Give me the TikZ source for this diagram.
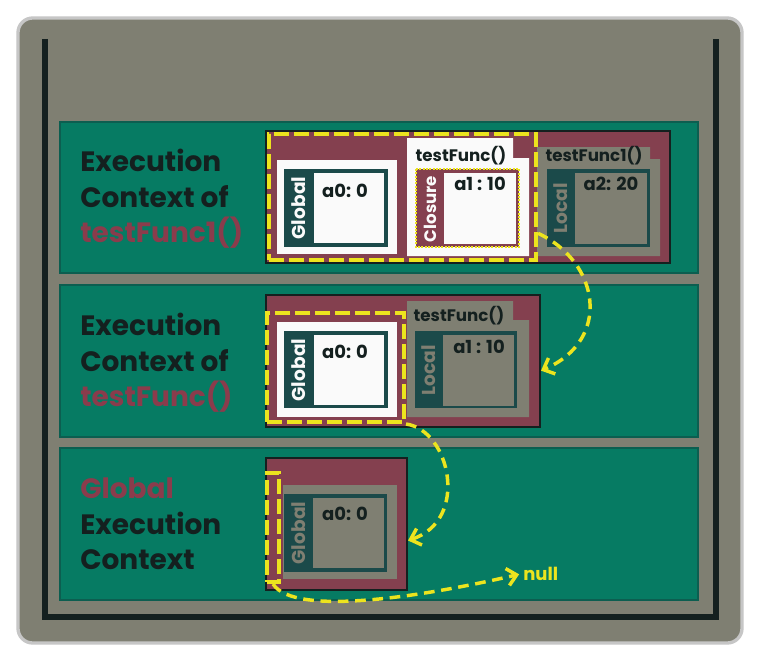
\documentclass[tikz,border=0pt]{standalone}
\usepackage{fontspec}
\setmainfont{Poppins}
\usetikzlibrary{arrows.meta}

\definecolor{frame}{HTML}{7F7F72}
\definecolor{panel}{HTML}{067B63}
\definecolor{panelline}{HTML}{0C5E50}
\definecolor{wine}{HTML}{84404F}
\definecolor{slate}{HTML}{1B4A4A}
\definecolor{chalk}{HTML}{FAFAFA}
\definecolor{lemon}{HTML}{ECE41E}
\definecolor{ink}{HTML}{14201F}
\definecolor{winetext}{HTML}{8A3C4C}

\tikzset{
  wh/.style 2 args={minimum width=#1*0.75pt,minimum height=#2*0.75pt,inner sep=0pt},
  ctxbox/.style={draw=ink,line width=1.5pt,fill=wine},
  scopebox/.style={draw=lemon,line width=3pt,dash pattern=on 11pt off 4pt},
  panelbox/.style={fill=panel,draw=panelline,line width=0.8pt},
  link/.style={draw=lemon,line width=2.6pt,dash pattern=on 8pt off 5pt,-{Straight Barb[length=7pt,width=13pt]}},
  heading/.style={anchor=north west,align=left,font=\bfseries\fontsize{21}{26.6}\selectfont,text=ink,inner sep=0pt},
  tag/.style={rotate=90,font=\bfseries\fontsize{14}{14}\selectfont,inner sep=0pt},
  val/.style={anchor=base,font=\bfseries\fontsize{13.5}{14}\selectfont,text=ink,inner sep=0pt},
  title/.style={anchor=base,font=\bfseries\fontsize{12.5}{13}\selectfont,text=ink,inner sep=0pt}
}

\begin{document}
\begin{tikzpicture}[x=0.75pt,y=-0.75pt]

  \useasboundingbox (0,0) rectangle (760,660);
  \fill[white] (0,0) rectangle (760,660);
  % frame
  \draw[draw=gray!45,line width=2.5pt,fill=frame,rounded corners=11pt] (18,18) rectangle (742,643);
  \draw[ink,line width=5pt] (45,39) -- (45,617) -- (716,617) -- (716,39);

  % testFunc1()
  \draw[panelbox] (60,122) rectangle (698,273);
  \node[heading] (h1) at (80,149) {Execution\\Context of\\\textcolor{winetext}{testFunc1()}};
  \node[ctxbox,wh={404}{132}] (ec1) at (468,197) {};
  \fill[frame] (537,147) -- (650,147) -- (650,159) -- (660,159) -- (660,256) -- (537,256) -- cycle;
  \fill[chalk] (407,138) -- (513,138) -- (513,158) -- (529,158) -- (529,256) -- (407,256) -- cycle;
  \fill[chalk] (277,160) rectangle (397,254);
  \fill[slate] (284,169) rectangle (388,247);
  \fill[chalk] (314,173) rectangle (384,243);
  \draw[fill=wine,draw=lemon,line width=1.5pt,densely dotted] (416,169) rectangle (519,247);
  \fill[chalk] (444,173) rectangle (516,244);
  \fill[slate] (547,169) rectangle (650,247);
  \fill[frame] (575,173) rectangle (647,244);
  \node[title] (t1) at (461,161) {testFunc()};
  \node[title] (t2) at (594,161) {testFunc1()};
  \node[tag,text=chalk] (glb1) at (299,208) {Global};
  \node[tag,text=chalk,font=\bfseries\fontsize{12.5}{13}\selectfont] (cls1) at (430,209) {Closure};
  \node[tag,text=frame] (loc1) at (561,208) {Local};
  \node[val] (v1) at (345,197) {a0: 0};
  \node[val] (v2) at (480,190) {a1 : 10};
  \node[val] (v3) at (611,190) {a2: 20};
  \node[scopebox,wh={267}{126}] (scope1) at (402.5,197) {};

  % testFunc()
  \draw[panelbox] (60,285) rectangle (698,437);
  \node[heading] (h2) at (80,313) {Execution\\Context of\\\textcolor{winetext}{testFunc()}};
  \node[ctxbox,wh={274}{132}] (ec2) at (403,361) {};
  \fill[frame] (407,301) -- (513,301) -- (513,320) -- (529,320) -- (529,417) -- (407,417) -- cycle;
  \fill[chalk] (277,322) rectangle (397,417);
  \fill[slate] (284,331) rectangle (388,408);
  \fill[chalk] (314,335) rectangle (384,405);
  \fill[slate] (415,331) rectangle (517,408);
  \fill[frame] (443,335) rectangle (514,406);
  \node[title] (t3) at (459,321) {testFunc()};
  \node[tag,text=chalk] (glb2) at (299,370) {Global};
  \node[tag,text=frame] (loc2) at (429,370) {Local};
  \node[val] (v4) at (345,358) {a0: 0};
  \node[val] (v5) at (479,353) {a1 : 10};
  \node[scopebox,wh={137}{109}] (scope2) at (335.5,367.5) {};

  % global
  \draw[panelbox] (60,448) rectangle (698,600);
  \node[heading] (h3) at (80,478) {\textcolor{winetext}{Global}\\Execution\\Context};
  \node[ctxbox,wh={141}{132}] (ec3) at (336.5,524) {};
  \fill[frame] (283,485) rectangle (397,579);
  \fill[slate] (284,494) rectangle (387,572);
  \fill[frame] (313,498) rectangle (384,568);
  \node[tag,text=frame] (glb3) at (298.5,533) {Global};
  \node[val] (v6) at (345,520) {a0: 0};
  \node[scopebox,wh={12}{109}] (scope3) at (273,527.5) {};
  \node[val,anchor=base west,text=lemon] (null) at (523,580) {null};

  % scope chain
  \draw[link] (scope1.-15) .. controls (600,262) and (612,340) .. (ec2.-4);
  \draw[link] (scope2.south east) .. controls (450,430) and (470,520) .. (ec3.-13);
  \draw[link,shorten >=3pt] (scope3.south) .. controls (295,618) and (430,595) .. (null.west);
\end{tikzpicture}
\end{document}
